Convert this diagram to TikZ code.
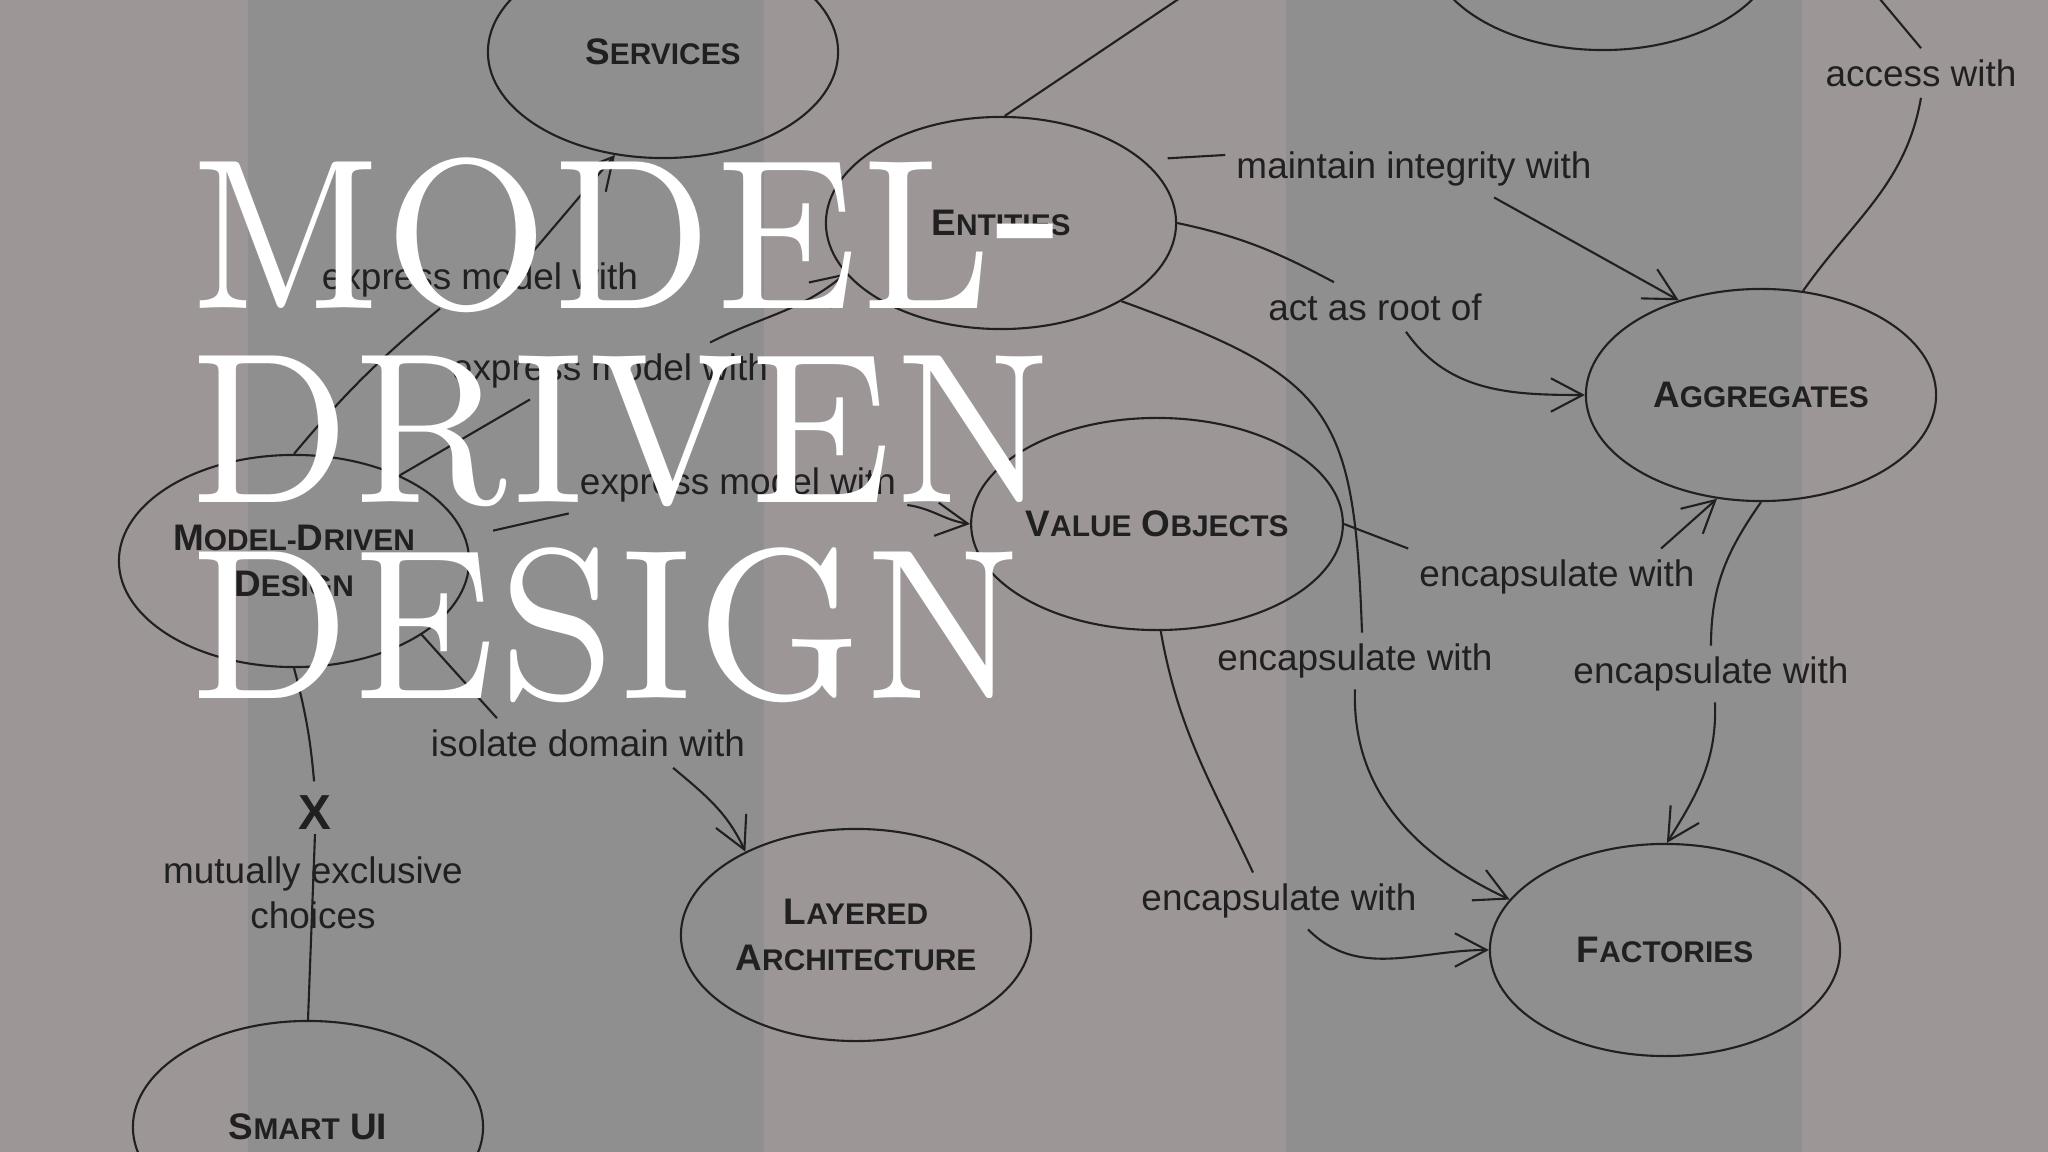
\documentclass[tikz,border=0pt]{standalone}
\usepackage{fontspec}
\newfontfamily\mapfont{Liberation Sans}
\newfontfamily\titlefont{lmroman7-regular.otf}
\usetikzlibrary{shapes.geometric,arrows.meta}
\definecolor{bggray}{RGB}{143,143,143}
\definecolor{bgpink}{RGB}{157,150,151}
\definecolor{ink}{RGB}{32,32,32}
\newcommand{\smc}[2]{{\fontsize{10.5}{13}\selectfont #1}{\fontsize{8.5}{13}\selectfont #2}}
\newcommand{\titleline}[1]{\scalebox{0.885}[1]{#1}}

\begin{document}
\begin{tikzpicture}[x=0.01cm, y=-0.01cm,
  concept/.style={ellipse, draw=ink, line width=0.6pt, minimum width=3.5cm, minimum height=2.12cm,
    inner sep=0pt, align=center, text=ink, font=\mapfont\bfseries\fontsize{10.5}{13}\selectfont},
  rel/.style={text=ink, inner sep=3pt, align=center, font=\mapfont\fontsize{10.5}{12.8}\selectfont},
  link/.style={draw=ink, line width=0.6pt},
  linkto/.style={link, -{Straight Barb[length=9pt,width=9.5pt]}},
  title/.style={text=white, inner sep=0pt, anchor=base west, font=\titlefont\fontsize{61}{61}\selectfont}]
  \useasboundingbox (0,0) rectangle (2048,1152);
  \clip (0,0) rectangle (2048,1152);
  \fill[bggray] (0,0) rectangle (2048,1152);
  \foreach \xa/\xb in {0/248, 764/1286, 1802/2048}
    \fill[bgpink] (\xa,0) rectangle (\xb,1152);

  \node[concept] (serv) at (663,52) {\smc{S}{ERVICES}};
  \node[concept] (rep) at (1603,-56) {};
  \node[concept] (ent) at (1001,223) {\smc{E}{NTITIES}};
  \node[concept] (agg) at (1761,395) {\smc{A}{GGREGATES}};
  \node[concept] (vo) at (1157,524) {\smc{V}{ALUE} \smc{O}{BJECTS}};
  \node[concept] (mdd) at (294,561) {\smc{M}{ODEL-}\smc{D}{RIVEN}\\\smc{D}{ESIGN}};
  \node[concept] (lay) at (856,935) {\smc{L}{AYERED}\\\smc{A}{RCHITECTURE}};
  \node[concept] (fac) at (1665,950) {\smc{F}{ACTORIES}};
  \node[concept] (smart) at (308,1127) {\smc{S}{MART} UI};

  \node[rel] (acc) at (1921,73) {access with};
  \node[rel] (maint) at (1414,169) {maintain integrity with};
  \node[rel] (root) at (1375,307) {act as root of};
  \node[rel] (exp1) at (480,280) {express model with};
  \node[rel] (exp2) at (610,371) {express model with};
  \node[rel] (exp3) at (738,485) {express model with};
  \node[rel] (encA) at (1557,577) {encapsulate with};
  \node[rel] (encB) at (1355,661) {encapsulate with};
  \node[rel] (encC) at (1711,674) {encapsulate with};
  \node[rel] (encD) at (1279,901) {encapsulate with};
  \node[rel] (iso) at (588,743) {isolate domain with};
  \node[text=ink, inner sep=1pt, font=\mapfont\bfseries\fontsize{14}{14}\selectfont] (excl) at (315,813) {X};
  \node[rel] (mutual) at (313,893) {mutually exclusive\\choices};

  \coordinate (entUp) at (1186,-6);
  \coordinate (accUp) at (1874,-8);

  % model-driven design
  \draw[link] (mdd.north) to[out=50,in=-140] ([xshift=-0.4cm]exp1.south);
  \draw[linkto] ([xshift=0.53cm]exp1.north) -- (serv.-115);
  \draw[link] (mdd.39) -- ([xshift=-0.8cm]exp2.south);
  \draw[linkto] ([xshift=1cm]exp2.north) to[out=27,in=-140] (ent.-162);
  \draw[link, shorten <=8pt] (mdd.8) -- (exp3.south west);
  \draw[linkto] ([yshift=-0.2cm]exp3.east) to[out=-8,in=172] (vo.180);
  \draw[link] (mdd.-30) -- ([xshift=-0.91cm]iso.north);
  \draw[linkto] ([xshift=0.85cm]iso.south) to[out=-40,in=115] (lay.143);
  \draw[link, shorten >=3pt] (mdd.south) to[out=-75,in=95] (excl.north);
  \draw[link] (excl.south) -- (smart.north);

  % entities
  \draw[link] (ent.88) -- (entUp);
  \draw[link, shorten <=7pt] (ent.24) -- ([yshift=0.14cm]maint.west);
  \draw[linkto] ([xshift=0.8cm]maint.south) -- (agg.131);
  \draw[link] (ent.0) to[out=-12,in=152] ([xshift=-0.41cm]root.north);
  \draw[linkto] ([xshift=0.31cm]root.south) to[out=-55,in=180] (agg.180);
  \draw[link] (ent.-33) to[out=-20,in=92,looseness=1.4] ([xshift=0.07cm]encB.north);
  \draw[linkto] (encB.south) to[out=-92,in=155] (fac.162);

  % value objects
  \draw[link] (vo.0) -- (encA.north west);
  \draw[linkto] ([xshift=1.04cm]encA.north) -- (agg.-113);
  \draw[link] (vo.-88) to[out=-80,in=115] ([xshift=-0.26cm]encD.north);
  \draw[linkto] ([xshift=0.29cm]encD.south) to[out=-45,in=180] (fac.180);

  % aggregates
  \draw[link] (acc.north) -- (accUp);
  \draw[link] (acc.south) to[out=-100,in=55] (agg.68);
  \draw[link] (agg.-90) to[out=-125,in=90] (encC.north);
  \draw[linkto] ([xshift=0.04cm]encC.south) to[out=-88,in=58] (fac.89);

  % title
  \node[title] (t1) at (188,309) {\titleline{MODEL\raisebox{9pt}{-}}};
  \node[title] (t2) at (188,503) {\titleline{DRIVEN}};
  \node[title] (t3) at (188,698) {\titleline{DESIGN}};
\end{tikzpicture}
\end{document}
